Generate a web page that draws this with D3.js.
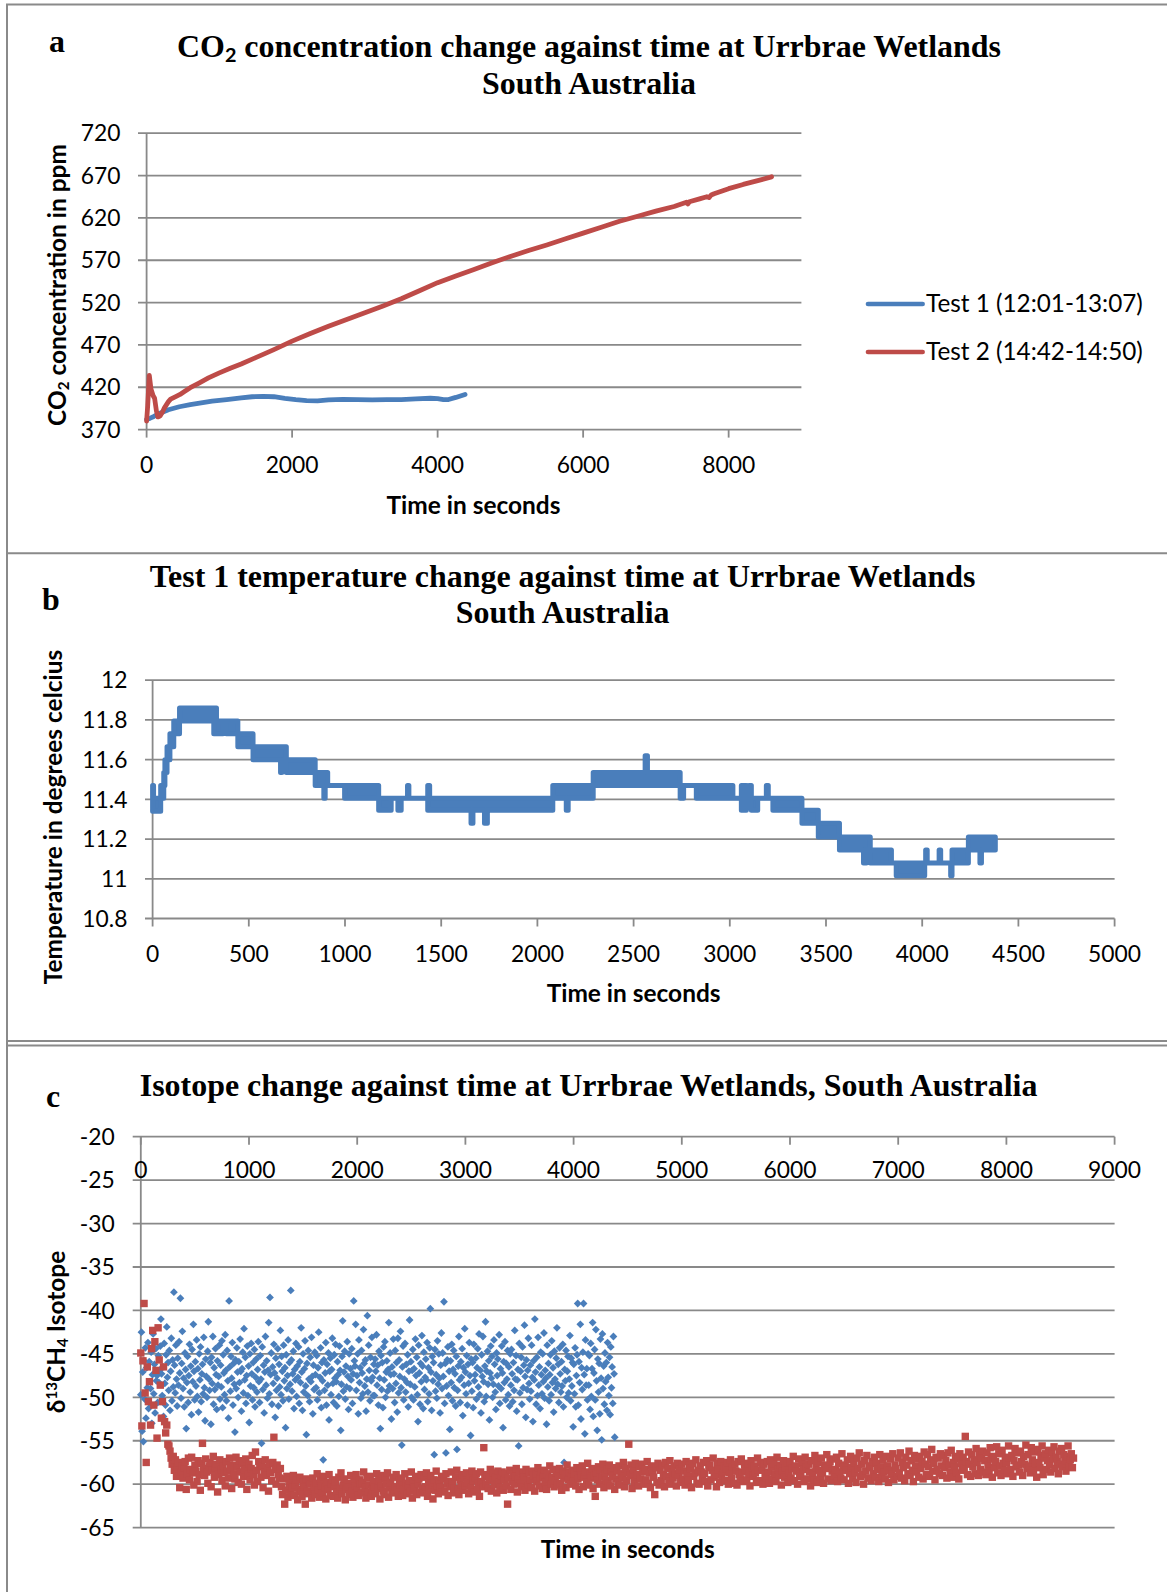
<!DOCTYPE html>
<html><head><meta charset="utf-8">
<script src="https://cdn.jsdelivr.net/npm/d3@7"></script>
<style>html,body{margin:0;padding:0;background:#fff;} svg{display:block;}</style>
</head><body>
<svg id="chart" width="1167" height="1592"></svg>
<script>
// ---------------- DATA ----------------
// Panel a: CO2 concentration
const co2Ticks = [370, 420, 470, 520, 570, 620, 670, 720];
const co2TimeTicks = [0, 2000, 4000, 6000, 8000];
const test1Co2Time = [0,50,100,200,300,450,600,750,900,1100,1300,1450,1600,1750,1900,2050,2200,2350,2500,2700,2900,3100,3300,3500,3700,3900,4000,4080,4150,4250,4377];
const test1Co2 = [382,383.5,385.5,390,393.5,397,399.5,401.5,403.5,405.5,407.5,408.8,409.3,408.8,406.8,405.3,404.3,404,405,405.6,405.5,405.2,405.4,405.5,406.2,407,406.5,405.3,405.5,408,411.5];
const test2Co2Time = [0,15,37,60,90,110,135,155,185,220,247,300,330,400,460,520,600,720,850,1000,1150,1300,1500,1750,2000,2250,2500,2750,3000,3250,3500,3750,4000,4250,4500,4750,5000,5250,5500,5750,6000,6250,6500,6750,7000,7250,7420,7440,7460,7600,7700,7730,7760,7800,8000,8200,8400,8590];
const test2Co2 = [380,398,434,418,410,407,392,385,386,391,396,403,406,409,411.5,415,419.5,425,431,437,442.5,447.5,455,464.5,474.5,483.5,492,500,508,516,524.5,534,543.5,551.5,559,567,574.5,581.5,588,595,602,609,616,622,628,633.5,638.5,636.5,639,642.5,645,644,647,648.5,654.5,659.5,664,668.5];
const legendLabels = ["Test 1 (12:01-13:07)", "Test 2 (14:42-14:50)"];

// Panel b: temperature (bands: start time, low level, high level)
const tempTicks = [10.8, 11, 11.2, 11.4, 11.6, 11.8, 12];
const tempTimeTicks = [0,500,1000,1500,2000,2500,3000,3500,4000,4500,5000];
const tempTime = [0,5,42,58,64,75,90,110,140,318,332,366,383,443,522,665,672,695,845,890,897,910,998,1175,1240,1275,1292,1325,1332,1430,1440,1655,1665,1725,1740,2080,2150,2160,2290,2560,2572,2742,2760,2826,3016,3060,3086,3100,3112,3145,3190,3200,3224,3375,3460,3570,3695,3710,3730,3840,3865,4013,4018,4026,4088,4096,4148,4155,4240,4300,4308,4380];
const tempLow = [11.34,11.34,11.405,11.47,11.535,11.60,11.665,11.73,11.795,11.73,11.73,11.795,11.73,11.665,11.60,11.535,11.60,11.535,11.47,11.405,11.47,11.47,11.405,11.345,11.405,11.345,11.405,11.405,11.405,11.345,11.345,11.28,11.345,11.28,11.345,11.405,11.345,11.405,11.47,11.47,11.47,11.405,11.47,11.405,11.405,11.345,11.405,11.405,11.345,11.405,11.405,11.405,11.345,11.28,11.21,11.145,11.08,11.145,11.08,11.08,11.015,11.08,11.08,11.08,11.08,11.08,11.015,11.08,11.145,11.08,11.145,11.145];
const tempHigh = [11.47,11.405,11.47,11.535,11.60,11.665,11.73,11.795,11.86,11.86,11.795,11.795,11.795,11.73,11.665,11.665,11.665,11.60,11.535,11.535,11.535,11.47,11.47,11.405,11.405,11.405,11.405,11.47,11.405,11.47,11.405,11.405,11.405,11.405,11.405,11.47,11.47,11.47,11.535,11.62,11.535,11.47,11.47,11.47,11.405,11.47,11.405,11.47,11.405,11.405,11.47,11.405,11.405,11.345,11.28,11.21,11.21,11.21,11.145,11.08,11.08,11.08,11.145,11.08,11.145,11.08,11.08,11.145,11.21,11.21,11.21,11.21];

// Panel c: isotope (regularly sampled readings)
const isoTicks = [-20,-25,-30,-35,-40,-45,-50,-55,-60,-65];
const isoTimeTicks = [0,1000,2000,3000,4000,5000,6000,7000,8000,9000];
const isoTest1Step = 6;
const isoTest1 = [
-49.7,-42.5,-53.9,-47.1,-55.1,-45.8,-50.2,-44.3,-52.4,-46.6,-48.9,-43.7,-51.3,-45.9,-50.7,-49.0,-44.8,-53.0,-47.4,-42.7,-49.6,-46.2,-51.8,-44.4,-48.1,-47.5,-50.6,-45.2,-48.3,-46.9,
-44.1,-41.0,-47.3,-49.8,-46.5,-52.2,-43.8,-48.4,-50.9,-45.1,-41.9,-47.7,-46.0,-49.2,-44.6,-51.5,-47.0,-43.2,-50.4,-45.7,-48.8,-37.9,-46.3,-49.5,-44.0,-47.9,-51.0,-45.5,-48.6,-43.6,
-47.2,-38.6,-50.1,-46.1,-42.4,-49.0,-47.8,-51.1,-44.9,-46.8,-53.6,-48.3,-45.3,-50.6,-47.5,-43.9,-49.4,-46.4,-52.0,-44.5,-48.2,-41.6,-47.0,-50.3,-45.9,-48.7,-43.4,-49.9,-46.7,-51.7,
-45.0,-48.0,-44.2,-50.5,-47.3,-46.2,-49.6,-43.1,-48.9,-52.7,-45.6,-47.6,-50.0,-44.7,-41.3,-47.9,-49.2,-46.0,-53.1,-45.4,-48.4,-43.0,-50.8,-46.6,-49.1,-44.4,-47.4,-51.4,-45.8,-48.6,
-47.6,-44.0,-50.2,-46.3,-48.8,-43.5,-51.2,-45.1,-47.2,-49.7,-42.8,-46.9,-50.4,-44.6,-48.1,-52.4,-38.9,-46.5,-49.3,-45.3,-47.8,-43.7,-50.9,-46.1,-48.5,-54.0,-45.7,-49.0,-44.3,-47.1,
-50.0,-45.9,-48.3,-43.3,-47.0,-51.6,-46.7,-44.8,-49.5,-42.1,-48.0,-45.4,-50.7,-47.5,-44.1,-49.8,-46.4,-52.9,-45.0,-48.7,-43.8,-47.3,-50.3,-46.0,-48.9,-44.5,-51.1,-47.7,-45.6,-49.4,
-46.8,-43.6,-48.2,-50.6,-45.2,-47.9,-55.3,-44.2,-49.1,-46.3,-51.8,-47.1,-43.0,-48.6,-45.8,-50.1,-46.9,-41.4,-49.6,-38.5,-47.4,-44.9,-50.8,-46.5,-48.4,-43.9,-47.2,-52.3,-45.5,-49.2,
-47.8,-44.4,-51.0,-46.2,-48.8,-42.3,-49.7,-45.3,-47.0,-50.4,-44.0,-48.1,-46.6,-53.5,-45.1,-49.0,-47.5,-43.4,-50.2,-46.0,-48.5,-37.7,-45.7,-49.3,-47.3,-44.7,-51.3,-46.8,-48.0,-43.8,
-49.9,-46.4,-47.7,-44.2,-50.7,-45.9,-48.3,-42.0,-47.1,-51.5,-45.0,-49.4,-46.7,-43.5,-48.7,-54.3,-46.1,-49.8,-44.6,-47.9,-50.5,-45.4,-48.2,-43.1,-47.6,-51.9,-46.3,-49.1,-44.8,-47.4,
-48.9,-45.2,-50.3,-46.6,-42.5,-49.5,-47.7,-44.3,-51.2,-46.0,-48.1,-57.2,-45.7,-49.2,-47.2,-43.7,-50.9,-46.2,-48.6,-44.9,-52.6,-47.0,-45.5,-49.7,-46.8,-43.2,-48.4,-50.6,-45.1,-47.8,
-43.9,-48.2,-51.0,-45.9,-47.4,-49.9,-44.1,-46.9,-53.8,-48.5,-45.3,-41.2,-49.3,-47.1,-44.7,-50.2,-46.4,-48.8,-43.6,-47.6,-51.4,-45.0,-49.0,-46.7,-48.0,-44.4,-50.7,-47.3,-38.9,-45.8,
-46.4,-41.6,-49.2,-47.5,-45.0,-51.9,-43.4,-48.3,-46.6,-50.1,-44.6,-47.2,-49.6,-42.2,-46.1,-48.7,-45.7,-51.6,-47.9,-40.6,-49.4,-44.0,-46.9,-50.4,-45.4,-48.1,-43.1,-47.7,-49.8,-46.2,
-49.8,-45.6,-47.0,-42.8,-48.6,-46.3,-50.9,-44.7,-47.8,-53.6,-45.2,-49.1,-46.0,-51.2,-44.2,-48.0,-43.6,-50.0,-47.1,-45.8,-49.3,-46.8,-41.4,-48.7,-44.9,-47.4,-52.5,-46.5,-49.0,-43.3,
-47.3,-50.6,-44.6,-48.4,-46.0,-51.7,-43.2,-49.5,-45.7,-47.6,-42.4,-48.9,-55.5,-46.5,-44.1,-50.3,-47.9,-43.8,-49.4,-46.2,-48.3,-45.1,-51.1,-47.0,-41.1,-48.5,-45.9,-50.0,-46.9,-44.5,
-50.3,-46.7,-48.8,-43.3,-47.5,-45.4,-49.7,-52.8,-44.0,-47.2,-50.8,-46.1,-48.2,-42.9,-46.4,-51.3,-44.8,-49.1,-47.7,-45.6,-48.0,-43.7,-50.5,-46.6,-49.6,-44.3,-39.8,-47.1,-51.5,-45.3,
-48.1,-46.0,-56.6,-44.5,-49.3,-47.4,-50.1,-43.5,-48.5,-45.0,-47.8,-51.8,-46.3,-42.6,-49.0,-44.9,-47.6,-39.0,-50.7,-46.1,-56.4,-48.7,-45.7,-44.2,-49.8,-47.0,-53.7,-45.8,-48.3,-43.9,
-50.4,-46.8,-44.6,-48.9,-47.3,-51.0,-45.3,-56.0,-49.2,-46.4,-43.0,-48.0,-50.6,-45.9,-47.7,-44.4,-52.1,-46.6,-48.6,-42.1,-47.1,-49.6,-45.2,-50.9,-46.2,-48.4,-43.7,-47.5,-54.4,-45.6,
-49.3,-46.0,-51.2,-43.9,-48.1,-47.4,-45.5,-50.2,-46.6,-44.4,-48.8,-42.7,-49.7,-46.9,-51.8,-45.1,-47.6,-43.0,-48.2,-50.5,-46.4,-41.3,-49.9,-47.0,-44.7,-48.5,-45.8,-52.6,-47.2,-44.1,
-47.8,-45.3,-50.0,-48.5,-43.4,-46.2,-49.4,-51.4,-44.9,-47.5,-45.6,-48.7,-42.8,-50.7,-46.7,-49.0,-44.1,-47.2,-53.5,-45.9,-48.3,-43.6,-50.3,-46.1,-47.9,-44.6,-49.7,-46.5,-51.0,-45.0,
-48.6,-44.5,-47.3,-50.5,-46.0,-49.2,-42.3,-47.9,-45.2,-51.6,-48.0,-46.8,-55.6,-43.8,-49.5,-47.0,-45.4,-50.8,-44.2,-48.9,-46.3,-41.7,-47.6,-52.3,-45.7,-49.1,-46.9,-43.2,-48.4,-50.2,
-46.3,-49.3,-44.0,-47.7,-52.8,-45.8,-48.0,-41.0,-47.1,-50.8,-45.4,-49.8,-43.1,-48.6,-46.5,-51.3,-44.8,-47.4,-49.6,-45.0,-48.2,-42.6,-50.1,-46.9,-47.8,-53.1,-44.0,-48.8,-46.1,-50.4,
-47.4,-45.1,-49.7,-43.5,-48.3,-46.6,-51.7,-44.7,-47.9,-49.0,-45.5,-42.0,-48.5,-46.2,-50.6,-44.3,-47.3,-49.4,-45.9,-48.7,-43.9,-51.1,-57.5,-46.8,-48.1,-44.6,-50.0,-47.0,-45.3,-49.5,
-47.9,-42.9,-50.4,-45.5,-48.7,-46.0,-53.4,-46.2,-49.6,-44.3,-51.1,-47.5,-45.1,-39.2,-50.9,-45.9,-48.3,-41.6,-52.5,-46.6,-49.1,-44.8,-39.2,-47.4,-54.2,-43.4,-48.6,-46.7,-50.3,-45.0,
-48.6,-45.2,-51.4,-43.8,-49.9,-46.7,-41.4,-52.2,-47.2,-44.5,-50.3,-42.2,-48.1,-53.8,-45.6,-49.4,-46.1,-51.9,-43.3,-47.8,-54.9,-42.7,-49.0,-46.4,-50.8,-44.9,-48.2,-46.0,-51.5,-43.7,
-47.7,-49.8,-45.4,-52.0,-44.2,-48.9,-46.5,-50.7,-43.0,-47.3,-54.6
];
const isoTest2Step = 10;
const isoTest2 = [
-44.9,-53.3,-45.8,-39.2,-49.5,-57.5,-46.5,-50.5,-48.2,-53.2,-44.4,-42.3,-50.9,-43.6,-46.9,-54.7,-42.0,-45.7,-48.6,-52.4,
-50.5,-46.5,-52.8,-54.1,-53.2,-55.4,-55.6,-56.2,-57.0,-57.7,-56.8,-58.4,-57.2,-59.1,-58.0,-57.5,-60.4,-58.6,-57.9,-59.3,
-58.1,-57.4,-60.6,-58.8,-57.0,-59.5,-58.3,-56.9,-58.7,-60.1,-57.8,-58.5,-59.7,-57.3,-58.9,-60.7,-57.6,-55.3,-58.2,-59.0,
-57.1,-58.6,-59.9,-58.0,-57.5,-60.3,-58.4,-56.8,-59.2,-58.1,-57.7,-60.9,-58.9,-57.2,-58.3,-59.6,-57.9,-58.7,-60.2,-57.4,
-58.5,-59.3,-57.0,-58.2,-60.5,-57.8,-58.8,-59.4,-56.9,-58.0,-59.8,-57.3,-58.6,-60.0,-57.6,-59.1,-58.3,-57.1,-60.6,-58.9,
-57.7,-59.5,-58.2,-56.7,-58.9,-60.1,-56.3,-58.4,-59.7,-57.4,-58.0,-59.2,-57.9,-60.4,-58.6,-57.2,-59.0,-58.1,-60.8,-57.6,
-58.7,-59.6,-57.5,-54.6,-58.3,-60.0,-57.8,-58.9,-59.3,-58.2,-60.3,-61.2,-59.4,-62.3,-60.7,-59.1,-61.5,-60.2,-59.6,-61.0,
-60.4,-59.0,-61.3,-60.1,-59.5,-61.8,-60.6,-59.2,-60.9,-61.4,-59.8,-60.3,-62.3,-59.4,-60.8,-61.1,-59.7,-60.0,-61.6,-59.3,
-60.5,-61.2,-59.9,-58.8,-60.7,-61.5,-59.6,-60.2,-61.0,-59.1,-60.4,-61.7,-59.8,-60.6,-58.9,-61.3,-60.0,-59.5,-61.4,-60.3,
-59.7,-60.9,-61.6,-59.2,-60.5,-58.7,-61.1,-60.1,-59.4,-61.8,-60.6,-59.9,-60.3,-61.2,-59.0,-60.8,-61.5,-59.6,-60.2,-58.9,
-60.7,-61.3,-59.5,-60.0,-61.0,-59.8,-58.6,-60.4,-61.6,-59.3,-60.9,-60.1,-59.1,-61.4,-60.6,-59.7,-60.3,-61.1,-58.8,-60.5,
-59.6,-61.7,-60.2,-59.0,-60.8,-61.2,-59.4,-60.0,-58.7,-61.5,-60.4,-59.8,-60.9,-59.2,-61.0,-60.3,-58.9,-60.7,-61.4,-59.5,
-60.1,-59.3,-61.3,-60.6,-58.8,-59.9,-61.1,-60.2,-59.6,-60.8,-58.6,-61.6,-59.7,-60.4,-59.1,-61.2,-60.0,-59.4,-60.9,-58.9,
-60.5,-61.0,-59.2,-60.3,-58.7,-61.4,-59.8,-60.6,-59.0,-60.1,-61.7,-59.5,-60.7,-58.5,-60.2,-61.1,-59.6,-60.4,-59.1,-60.9,
-59.4,-60.8,-58.8,-60.0,-61.3,-59.7,-60.3,-58.6,-59.9,-61.0,-60.5,-59.2,-58.4,-60.6,-61.2,-59.5,-60.1,-58.9,-60.7,-59.3,
-60.2,-58.7,-59.8,-61.1,-59.0,-60.4,-58.5,-59.6,-60.9,-59.3,-58.8,-60.6,-59.9,-61.4,-58.6,-59.7,-60.3,-55.8,-59.1,-60.0,
-58.9,-60.5,-59.4,-58.3,-60.8,-59.6,-58.7,-60.1,-59.2,-61.0,-58.5,-59.8,-60.4,-59.0,-58.6,-60.7,-59.5,-58.8,-60.2,-62.3,
-59.3,-58.4,-60.6,-59.7,-58.9,-60.0,-59.1,-58.2,-60.9,-59.4,-58.6,-59.9,-60.3,-58.8,-59.2,-60.7,-58.3,-59.6,-60.1,-58.7,
-59.5,-60.4,-58.5,-59.0,-60.8,-58.9,-59.7,-58.1,-60.2,-59.3,-58.6,-60.5,-59.1,-58.4,-59.8,-60.6,-58.8,-59.4,-57.9,-60.0,
-59.2,-58.3,-60.3,-59.6,-58.7,-60.1,-59.0,-58.2,-59.9,-60.7,-58.5,-59.3,-58.9,-60.4,-57.8,-59.5,-58.6,-60.0,-59.1,-58.4,
-59.7,-58.8,-60.2,-58.1,-59.4,-60.6,-58.5,-59.0,-57.9,-60.3,-59.2,-58.6,-59.8,-57.6,-60.1,-58.9,-59.3,-58.2,-60.5,-59.0,
-61.4,-58.7,-59.5,-58.0,-60.0,-58.4,-59.2,-57.7,-60.4,-58.9,-59.6,-58.3,-59.9,-57.8,-60.2,-58.6,-59.1,-58.1,-60.6,-59.4,
-58.5,-59.8,-57.9,-60.1,-58.8,-59.3,-57.5,-60.3,-58.2,-59.6,-58.7,-55.4,-59.0,-57.8,-60.5,-58.4,-59.7,-57.6,-59.1,-58.9,
-60.2,-58.0,-59.4,-57.7,-58.6,-60.0,-58.3,-59.5,-57.4,-59.9,-58.7,-60.4,-57.9,-58.5,-59.2,-61.2,-58.1,-59.8,-57.6,-60.1,
-58.4,-59.6,-57.8,-58.9,-60.3,-57.5,-59.1,-58.2,-59.7,-57.3,-60.0,-58.6,-59.3,-57.9,-58.8,-60.2,-57.6,-59.0,-58.3,-59.8,
-57.7,-59.4,-58.5,-60.1,-57.4,-58.9,-59.6,-57.8,-58.2,-60.4,-57.6,-59.1,-58.7,-57.2,-59.9,-58.4,-60.0,-57.9,-58.6,-59.3,
-57.5,-58.8,-59.7,-57.3,-60.2,-58.1,-57.8,-59.5,-58.4,-57.0,-59.2,-58.9,-60.3,-57.6,-58.3,-59.8,-57.4,-59.0,-58.6,-57.9,
-59.6,-58.2,-57.5,-60.0,-58.7,-57.2,-59.3,-58.0,-59.9,-57.7,-58.5,-60.1,-57.4,-58.9,-59.4,-57.1,-58.6,-59.7,-57.8,-58.3,
-59.5,-57.6,-58.8,-60.2,-57.3,-58.1,-59.1,-57.9,-58.7,-59.8,-57.0,-58.4,-59.6,-57.5,-58.2,-60.0,-57.7,-58.9,-59.3,-57.4,
-58.6,-59.9,-57.2,-58.0,-59.4,-57.6,-58.8,-59.7,-56.9,-58.3,-59.0,-57.8,-60.1,-58.5,-57.3,-59.2,-58.1,-57.5,-59.8,-58.7,
-57.4,-59.3,-58.2,-56.8,-59.6,-57.9,-58.5,-60.0,-57.1,-58.8,-59.1,-57.6,-58.3,-59.7,-56.9,-58.0,-59.4,-57.7,-58.6,-60.2,
-57.3,-58.9,-59.5,-56.7,-58.1,-59.8,-57.5,-58.4,-59.2,-57.0,-58.7,-59.9,-57.8,-58.2,-56.6,-59.4,-58.0,-57.4,-59.6,-58.5,
-57.1,-59.0,-58.3,-56.9,-59.7,-57.6,-58.6,-59.3,-56.5,-58.0,-59.5,-57.8,-58.4,-57.2,-59.9,-58.8,-56.8,-58.1,-59.4,-57.5,
-58.7,-59.8,-57.0,-58.2,-56.4,-59.1,-57.7,-58.9,-60.0,-57.3,-58.5,-56.7,-59.3,-57.9,-58.1,-59.6,-57.4,-58.8,-56.9,-59.2,
-57.6,-58.3,-59.7,-56.6,-58.0,-59.0,-57.2,-58.6,-59.4,-56.8,-57.9,-59.8,-58.4,-57.1,-58.9,-56.5,-59.5,-57.8,-58.2,-59.1,
-57.0,-58.7,-56.4,-59.3,-57.5,-58.1,-59.6,-56.9,-57.8,-58.8,-56.2,-59.0,-57.3,-58.4,-59.7,-56.7,-57.9,-58.6,-57.1,-59.2,
-56.8,-58.2,-57.4,-59.4,-56.3,-57.7,-58.9,-56.6,-58.0,-59.1,-57.2,-56.0,-58.5,-57.6,-59.5,-56.9,-58.3,-57.0,-58.8,-56.5,
-57.9,-59.0,-56.7,-58.1,-57.3,-59.3,-56.4,-57.8,-58.6,-56.1,-59.2,-57.5,-58.0,-56.8,-58.7,-57.1,-59.4,-56.5,-57.6,-58.4,
-56.9,-58.2,-54.5,-57.4,-58.9,-56.3,-57.7,-59.1,-56.6,-58.0,-57.2,-58.8,-55.9,-57.5,-59.0,-56.7,-58.3,-57.0,-56.2,-58.6,
-57.3,-58.9,-56.4,-57.8,-58.5,-55.8,-57.1,-59.2,-56.8,-58.1,-57.4,-55.7,-58.7,-56.5,-57.9,-59.0,-56.1,-57.6,-58.4,-56.9,
-57.5,-58.8,-55.6,-57.0,-58.3,-56.7,-59.1,-57.3,-55.9,-58.0,-56.4,-57.8,-58.6,-56.2,-57.4,-59.0,-56.8,-57.7,-55.5,-58.2,
-56.6,-57.9,-58.7,-55.8,-57.2,-58.4,-56.3,-57.6,-59.2,-56.0,-57.5,-58.1,-56.7,-55.6,-58.9,-57.0,-56.5,-58.3,-57.3,-56.1,
-57.8,-58.6,-56.4,-57.1,-55.7,-58.2,-56.9,-57.4,-58.8,-56.2,-57.7,-55.9,-58.0,-56.6,-57.3,-58.5,-56.8,-55.6,-57.9,-57.2,
-56.5,-58.1,-57.0
];

// ---------------- DRAWING ----------------
const svg = d3.select('#chart');
const SANS = 'Lato, "Open Sans", "DejaVu Sans", sans-serif';
const SERIF = '"Liberation Serif", "Times New Roman", serif';
const BLUE = '#4A7EBB', RED = '#BE4B48', GRID = '#898989', FRAME = '#8a8a8a';

function fitSize(str, family, weight, target) {
  const t = svg.append('text').attr('font-family', family).attr('font-weight', weight)
    .attr('font-size', 100).text(str);
  const w = t.node().getComputedTextLength();
  t.remove();
  return w > 0 ? 100 * target / w : 20;
}
const TICK = fitSize('8000', SANS, 400, 53);
const LEG = fitSize(legendLabels[0], SANS, 400, 217);
const AXT = fitSize('Time in seconds', SANS, 700, 174);
const TITLE = fitSize('Isotope change against time at Urrbrae Wetlands, South Australia', SERIF, 700, 898);

// frame
const frame = svg.append('g').attr('stroke', FRAME).attr('stroke-width', 2).attr('fill', 'none');
[[6, 4.5, 1167, 4.5], [7, 4, 7, 1592], [7, 553.3, 1167, 553.3], [7, 1041, 1167, 1041], [7, 1045.5, 1167, 1045.5]]
  .forEach(l => frame.append('line').attr('x1', l[0]).attr('y1', l[1]).attr('x2', l[2]).attr('y2', l[3]));

function txt(g, x, y, s, size, opts = {}) {
  return g.append('text').attr('x', x).attr('y', y).attr('font-size', size)
    .attr('font-family', opts.family || SANS).attr('font-weight', opts.weight || 400)
    .attr('text-anchor', opts.anchor || 'start').attr('fill', '#000').text(s);
}
function yGrid(g, ticks, y, x0, x1) {
  g.append('g').selectAll('line').data(ticks).join('line')
    .attr('x1', x0).attr('x2', x1).attr('y1', d => y(d)).attr('y2', d => y(d))
    .attr('stroke', GRID).attr('stroke-width', 1.8);
}
function yLabels(g, ticks, y, xr) {
  g.append('g').selectAll('text').data(ticks).join('text')
    .attr('x', xr).attr('y', d => y(d) + TICK * 0.36)
    .attr('text-anchor', 'end').attr('font-family', SANS).attr('font-size', TICK)
    .text(d => String(d));
}
function xTicks(g, ticks, x, yA, yB) {
  g.append('g').selectAll('line').data(ticks).join('line')
    .attr('x1', d => x(d)).attr('x2', d => x(d)).attr('y1', yA).attr('y2', yB)
    .attr('stroke', GRID).attr('stroke-width', 1.8);
}
function xLabels(g, ticks, x, yb) {
  g.append('g').selectAll('text').data(ticks).join('text')
    .attr('x', d => x(d)).attr('y', yb)
    .attr('text-anchor', 'middle').attr('font-family', SANS).attr('font-size', TICK)
    .text(d => String(d));
}

// ===== Panel a =====
{
  const g = svg.append('g');
  const x = d3.scaleLinear([0, 9000], [146.6, 801.4]);
  const y = d3.scaleLinear([370, 720], [429.6, 133.2]);
  yGrid(g, co2Ticks, y, 138, 801.4);
  g.append('line').attr('x1', x(0)).attr('x2', x(0)).attr('y1', y(370)).attr('y2', y(720))
    .attr('stroke', GRID).attr('stroke-width', 1.8);
  xTicks(g, co2TimeTicks, x, y(370), y(370) + 8);
  yLabels(g, co2Ticks, y, 120.5);
  xLabels(g, co2TimeTicks, x, 472.6);

  const line = d3.line().x(d => x(d[0])).y(d => y(d[1]));
  g.append('path').datum(test1Co2Time.map((t, i) => [t, test1Co2[i]]))
    .attr('d', line).attr('fill', 'none').attr('stroke', BLUE).attr('stroke-width', 4.8)
    .attr('stroke-linejoin', 'round').attr('stroke-linecap', 'round');
  g.append('path').datum(test2Co2Time.map((t, i) => [t, test2Co2[i]]))
    .attr('d', line).attr('fill', 'none').attr('stroke', RED).attr('stroke-width', 4.8)
    .attr('stroke-linejoin', 'round').attr('stroke-linecap', 'round');

  [BLUE, RED].forEach((c, i) => {
    const yy = 304 + i * 48;
    g.append('line').attr('x1', 868).attr('x2', 922.6).attr('y1', yy).attr('y2', yy)
      .attr('stroke', c).attr('stroke-width', 4.7).attr('stroke-linecap', 'round');
    txt(g, 926, yy + 8.3, legendLabels[i], LEG);
  });

  const t1 = txt(g, 589, 57, '', TITLE, { family: SERIF, weight: 700, anchor: 'middle' });
  t1.append('tspan').text('CO');
  t1.append('tspan').attr('font-family', SANS).attr('font-size', TITLE * 0.62).attr('dy', 5).text('2');
  t1.append('tspan').attr('dy', -5).text(' concentration change against time at Urrbrae Wetlands');
  txt(g, 589, 93.5, 'South Australia', TITLE, { family: SERIF, weight: 700, anchor: 'middle' });
  txt(g, 49, 52, 'a', TITLE, { family: SERIF, weight: 700 });

  txt(g, x(4500) - 0.5, 513.5, 'Time in seconds', AXT, { weight: 700, anchor: 'middle' });
  const yt = g.append('text').attr('transform', 'translate(65.5,285) rotate(-90)')
    .attr('text-anchor', 'middle').attr('font-family', SANS).attr('font-weight', 700).attr('font-size', AXT);
  yt.append('tspan').text('CO');
  yt.append('tspan').attr('font-size', AXT * 0.62).attr('dy', 3).text('2');
  yt.append('tspan').attr('dy', -3).text(' concentration in ppm');
}

// ===== Panel b =====
{
  const g = svg.append('g');
  const x = d3.scaleLinear([0, 5000], [152.6, 1114.6]);
  const y = d3.scaleLinear([10.8, 12], [918.5, 680.2]);
  yGrid(g, tempTicks, y, 145, 1114.6);
  g.append('line').attr('x1', x(0)).attr('x2', x(0)).attr('y1', y(10.8)).attr('y2', y(12))
    .attr('stroke', GRID).attr('stroke-width', 1.8);
  xTicks(g, tempTimeTicks, x, y(10.8), y(10.8) + 8);
  yLabels(g, tempTicks, y, 127.4);
  xLabels(g, tempTimeTicks, x, 961.6);

  const area = d3.area().curve(d3.curveStepAfter)
    .x(d => x(d[0])).y0(d => y(d[1])).y1(d => y(d[2]));
  g.append('path').datum(tempTime.map((t, i) => [t, tempLow[i], tempHigh[i]]))
    .attr('d', area).attr('fill', BLUE).attr('stroke', BLUE).attr('stroke-width', 5)
    .attr('stroke-linejoin', 'round').attr('stroke-linecap', 'round');

  txt(g, 562.6, 586.7, 'Test 1 temperature change against time at Urrbrae Wetlands', TITLE, { family: SERIF, weight: 700, anchor: 'middle' });
  txt(g, 562.6, 623.3, 'South Australia', TITLE, { family: SERIF, weight: 700, anchor: 'middle' });
  txt(g, 42, 610, 'b', TITLE, { family: SERIF, weight: 700 });

  txt(g, x(2500), 1001.5, 'Time in seconds', AXT, { weight: 700, anchor: 'middle' });
  g.append('text').attr('transform', 'translate(62,817) rotate(-90)')
    .attr('text-anchor', 'middle').attr('font-family', SANS).attr('font-weight', 700).attr('font-size', AXT)
    .text('Temperature in degrees celcius');
}

// ===== Panel c =====
{
  const g = svg.append('g');
  const x = d3.scaleLinear([0, 9000], [140.8, 1114.6]);
  const y = d3.scaleLinear([-65, -20], [1527.6, 1136.7]);
  yGrid(g, isoTicks, y, 132.7, 1114.6);
  g.append('line').attr('x1', x(0)).attr('x2', x(0)).attr('y1', y(-65)).attr('y2', y(-20))
    .attr('stroke', GRID).attr('stroke-width', 1.8);
  xTicks(g, isoTimeTicks, x, y(-20), y(-20) + 8);
  yLabels(g, isoTicks, y, 114.8);
  xLabels(g, isoTimeTicks, x, 1178);

  g.append('g').selectAll('path').data(isoTest1).join('path')
    .attr('d', 'M0,-3.9L3.9,0L0,3.9L-3.9,0Z')
    .attr('transform', (d, i) => `translate(${x(i * isoTest1Step)},${y(d)})`)
    .attr('fill', BLUE);
  g.append('g').selectAll('rect').data(isoTest2).join('rect')
    .attr('x', (d, i) => x(i * isoTest2Step) - 3.7).attr('y', d => y(d) - 3.7)
    .attr('width', 7.4).attr('height', 7.4).attr('fill', RED);

  txt(g, 588.6, 1095.9, 'Isotope change against time at Urrbrae Wetlands, South Australia', TITLE, { family: SERIF, weight: 700, anchor: 'middle' });
  txt(g, 46, 1107, 'c', TITLE, { family: SERIF, weight: 700 });

  txt(g, x(4500), 1557.5, 'Time in seconds', AXT, { weight: 700, anchor: 'middle' });
  const yt = g.append('text').attr('transform', 'translate(65,1332) rotate(-90)')
    .attr('text-anchor', 'middle').attr('font-family', SANS).attr('font-weight', 700).attr('font-size', AXT);
  yt.append('tspan').text('δ');
  yt.append('tspan').attr('font-size', AXT * 0.62).attr('dy', -8).text('13');
  yt.append('tspan').attr('dy', 8).text('CH');
  yt.append('tspan').attr('font-size', AXT * 0.62).attr('dy', 3).text('4');
  yt.append('tspan').attr('dy', -3).text(' Isotope');
}
</script>
</body></html>
